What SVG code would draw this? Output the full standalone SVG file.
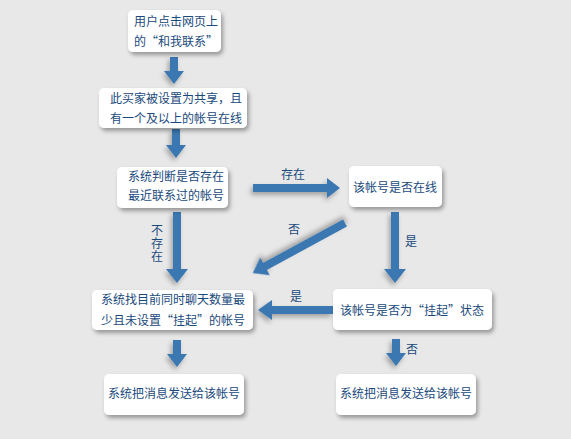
<svg xmlns="http://www.w3.org/2000/svg" width="571" height="439" viewBox="0 0 571 439">
<defs>
<filter id="sh" x="-20%" y="-20%" width="140%" height="150%">
<feDropShadow dx="2" dy="3" stdDeviation="2" flood-color="#000" flood-opacity="0.35"/>
</filter>
<filter id="ash" x="-30%" y="-30%" width="160%" height="160%">
<feDropShadow dx="-2" dy="3" stdDeviation="2.5" flood-color="#000" flood-opacity="0.3"/>
</filter>
<style>
.box{fill:#fff;filter:url(#sh)}
.t{font-family:"Noto Sans CJK SC","Liberation Sans",sans-serif;font-size:12px;fill:#1a4a7c}
.c{text-anchor:middle}
.v{writing-mode:vertical-rl;letter-spacing:1px}
.arr{fill:#3b77b1;filter:url(#ash)}
</style>
</defs>
<rect width="571" height="439" fill="#e8e8e8"/>
<g id="connectors">
<polygon class="arr" points="170,57 178,57 178,71 184,71 174,84 164,71 170,71"/>
<polygon class="arr" points="172,129 180,129 180,145 186,145 176,158 166,145 172,145"/>
<polygon class="arr" points="173,212 181,212 181,269 188,269 177,283 166,269 173,269"/>
<polygon class="arr" points="391,212 399,212 399,269 406,269 395,283 384,269 391,269"/>
<polygon class="arr" points="173,340 181,340 181,354 187,354 177,367 167,354 173,354"/>
<polygon class="arr" points="392,339 400,339 400,353 406,353 396,366 386,353 392,353"/>
<polygon class="arr" points="253,184 327,184 327,178 340,188 327,198 327,192 253,192"/>
<polygon class="arr" points="333,306 272,306 272,300 258,310 272,320 272,314 333,314"/>
<polygon class="arr" transform="translate(345,223) rotate(151.5)" points="0,-4 91,-4 91,-10 105,0 91,10 91,4 0,4"/>
<text class="t" x="281" y="179">存在</text>
<text class="t" x="288" y="234">否</text>
<text class="t v" x="157" y="224">不存在</text>
<text class="t" x="405" y="246">是</text>
<text class="t" x="290" y="301">是</text>
<text class="t" x="406" y="354">否</text>
</g>
<g id="n1">
<rect class="box" x="128" y="10" width="93" height="42" rx="5"/>
<text class="t" x="134" y="26">用户点击网页上</text>
<text class="t" x="134" y="46">的“和我联系”</text>
</g>
<g id="n2">
<rect class="box" x="99" y="88" width="148" height="40" rx="5"/>
<text class="t" x="110" y="103">此买家被设置为共享，且</text>
<text class="t" x="110" y="123">有一个及以上的帐号在线</text>
</g>
<g id="n3">
<rect class="box" x="117" y="167" width="111" height="41" rx="5"/>
<text class="t" x="128" y="181">系统判断是否存在</text>
<text class="t" x="128" y="200">最近联系过的帐号</text>
</g>
<g id="n4">
<rect class="box" x="349" y="166" width="93" height="41" rx="5"/>
<text class="t c" x="395" y="192">该帐号是否在线</text>
</g>
<g id="n5">
<rect class="box" x="92" y="290" width="161" height="40" rx="5"/>
<text class="t" x="101" y="304">系统找目前同时聊天数量最</text>
<text class="t" x="101" y="325">少且未设置“挂起”的帐号</text>
</g>
<g id="n6">
<rect class="box" x="333" y="289" width="159" height="41" rx="5"/>
<text class="t c" x="412" y="315">该帐号是否为“挂起”状态</text>
</g>
<g id="n7">
<rect class="box" x="104" y="374" width="140" height="41" rx="5"/>
<text class="t c" x="174" y="398">系统把消息发送给该帐号</text>
</g>
<g id="n8">
<rect class="box" x="336" y="374" width="140" height="41" rx="5"/>
<text class="t c" x="406" y="398">系统把消息发送给该帐号</text>
</g>
</svg>
